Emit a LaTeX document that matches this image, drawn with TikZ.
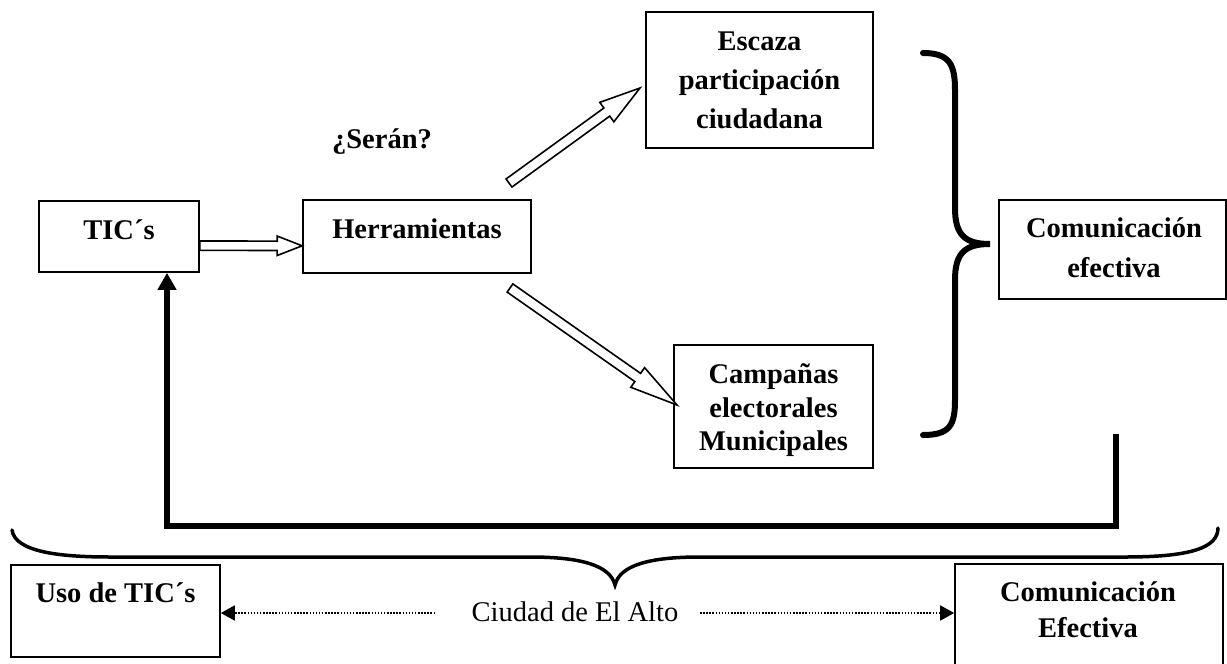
\documentclass[tikz,border=0pt]{standalone}
\usepackage{fontspec}
\setmainfont{Liberation Serif}
\usetikzlibrary{calc,arrows.meta}
\tikzset{
  box/.style={draw, line width=1.6pt, inner sep=0pt},
  bt/.style={font=\fontsize{28.5}{34}\selectfont\bfseries, inner sep=0pt, anchor=base},
  rt/.style={font=\fontsize{28.5}{34}\selectfont, inner sep=0pt, anchor=base},
  hollow/.style={draw, line width=1.6pt, fill=white, line join=miter},
  fb/.style={line width=6pt, line join=miter, -{Triangle[length=17pt,width=18pt]}},
  bracel/.style={line width=6pt, line cap=round},
  braces/.style={line width=3.5pt, line cap=round},
  dots/.style={line width=1.8pt, dash pattern=on 1.5pt off 1.6pt, -{Triangle[length=14pt,width=15pt]}}
}
\newcommand\hollowarrow[5]{%
  \coordinate (#1-#2-b) at ($(#2)!#5!(#1)$);
  \draw[hollow] ($(#1)!#3!90:(#2)$) -- ($(#1-#2-b)!#3!90:(#2)$) -- ($(#1-#2-b)!#4!90:(#2)$)
    -- (#2) -- ($(#1-#2-b)!#4!-90:(#2)$) -- ($(#1-#2-b)!#3!-90:(#2)$) -- ($(#1)!#3!-90:(#2)$) -- cycle;
}
\begin{document}
\begin{tikzpicture}[x=1pt,y=-1pt]
\useasboundingbox (0,0) rectangle (1227,664);

% boxes
\node[box, minimum width=160pt, minimum height=71.3pt] (tic) at (119,236.4) {};
\node[box, minimum width=228pt, minimum height=73pt] (herr) at (417,236.5) {};
\node[box, minimum width=227pt, minimum height=136pt] (esc) at (759.5,80) {};
\node[box, minimum width=199pt, minimum height=123pt] (camp) at (773.5,406.5) {};
\node[box, minimum width=227pt, minimum height=99pt] (comef) at (1112.5,249.5) {};
\node[box, minimum width=209pt, minimum height=92pt] (uso) at (115.5,611) {};
\node[box, minimum width=268pt, minimum height=136pt] (comef2) at (1089,632) {};

% texts
\node[bt] (tic-t) at (119,239) {TIC´s};
\node[bt] (herr-t) at (417,238) {Herramientas};
\node[bt] (seran) at (382,148) {¿Serán?};
\node[bt] (esc-t1) at (759.5,50) {Escaza};
\node[bt] (esc-t2) at (759.5,89) {participación};
\node[bt] (esc-t3) at (759.5,128) {ciudadana};
\node[bt] (camp-t1) at (773.5,383) {Campañas};
\node[bt] (camp-t2) at (773.5,417) {electorales};
\node[bt] (camp-t3) at (773.5,450) {Municipales};
\node[bt] (comef-t1) at (1114,237) {Comunicación};
\node[bt] (comef-t2) at (1114,277) {efectiva};
\node[bt] (uso-t) at (115.5,602) {Uso de TIC´s};
\node[bt] (comef2-t1) at (1088,601) {Comunicación};
\node[bt] (comef2-t2) at (1088,637) {Efectiva};
\node[rt] (ciudad) at (575,621) {Ciudad de El Alto};

% hollow arrows
\coordinate (ta) at ($(tic.east)+(0,9.3)$);
\coordinate (ha) at ($(herr.west)+(0,9.3)$);
\hollowarrow{ta}{ha}{4.7pt}{9.7pt}{25pt}
\coordinate (ua) at (509,183);
\coordinate (ub) at (640,88);
\hollowarrow{ua}{ub}{5pt}{12pt}{41pt}
\coordinate (da) at (510,288);
\coordinate (db) at (677,405);
\hollowarrow{da}{db}{5pt}{12pt}{48pt}

% right brace
\draw[bracel] (923,53) .. controls (950,53) and (955,65) .. (955,90) -- (955,208)
  .. controls (955,235) and (965,244) .. (990,244)
  .. controls (965,244) and (955,253) .. (955,280) -- (955,400)
  .. controls (955,425) and (950,435) .. (923,435);

% feedback arrow
\coordinate (fbs) at (1116,434);
\coordinate (fbc) at (167,526);
\draw[fb] (fbs) |- (fbc) -- (tic.south -| fbc);

% bottom brace
\draw[braces] (12,530) .. controls (15,552) and (60,557) .. (110,557) -- (530,557)
  .. controls (580,557) and (610,565) .. (615,585)
  .. controls (620,565) and (650,557) .. (700,557) -- (1125,557)
  .. controls (1190,557) and (1218,548) .. (1218,528);

% dotted arrows
\coordinate (dl) at (435,613);
\coordinate (dr) at (700,613);
\draw[dots] (dl) -- (uso.east |- dl);
\draw[dots] (dr) -- (comef2.west |- dr);
\end{tikzpicture}
\end{document}
